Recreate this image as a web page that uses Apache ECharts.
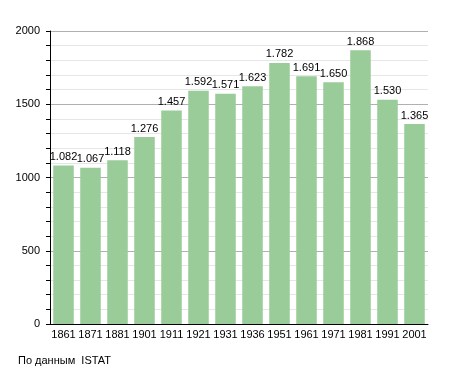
<!DOCTYPE html>
<html><head><meta charset="utf-8">
<script src="https://cdn.jsdelivr.net/npm/echarts@6/dist/echarts.min.js"></script>
<style>html,body{margin:0;padding:0;background:#fff}#c{width:455px;height:373px}</style>
</head><body><div id="c"></div>
<script>
const categories = ['1861','1871','1881','1901','1911','1921','1931','1936','1951','1961','1971','1981','1991','2001'];
const population = [1082,1067,1118,1276,1457,1592,1571,1623,1782,1691,1650,1868,1530,1365];
const yTicks = [0,500,1000,1500,2000];
const sourceNote = 'По данным  ISTAT';

const font = 'Liberation Sans, Arial, sans-serif';
const chart = echarts.init(document.getElementById('c'), null, {renderer:'canvas'});
chart.setOption({
  animation:false,
  backgroundColor:'#fff',
  grid:{left:50,right:27,top:31,bottom:49,containLabel:false},
  graphic:[{type:'text',left:18,top:355,style:{text:sourceNote,font:'11px '+font,fill:'#000'}}],
  xAxis:{type:'category',data:categories,
    axisLine:{lineStyle:{color:'#000',width:1}},
    axisTick:{show:false},
    axisLabel:{color:'#000',fontFamily:font,fontSize:11,margin:5,interval:0},
    splitLine:{show:false}},
  yAxis:{type:'value',min:0,max:2000,interval:500,
    axisLine:{show:true,lineStyle:{color:'#000'}},
    axisTick:{show:true,length:4,inside:false,lineStyle:{color:'#000'}},
    minorTick:{show:true,splitNumber:5,length:4,lineStyle:{color:'#000'}},
    axisLabel:{color:'#000',fontFamily:font,fontSize:11,margin:10,
      formatter:v=>yTicks.includes(v)?String(v):''},
    splitLine:{show:true,lineStyle:{color:'#b0b0b0',width:1}},
    minorSplitLine:{show:true,lineStyle:{color:'#e6e6e6',width:1}}},
  series:[{type:'bar',data:population,barCategoryGap:'24%',
    itemStyle:{color:'#99cc99'},
    label:{show:true,position:'top',distance:3,color:'#000',fontFamily:font,fontSize:11,
      formatter:p=>p.value.toLocaleString('it-IT')}}]
});
</script></body></html>
